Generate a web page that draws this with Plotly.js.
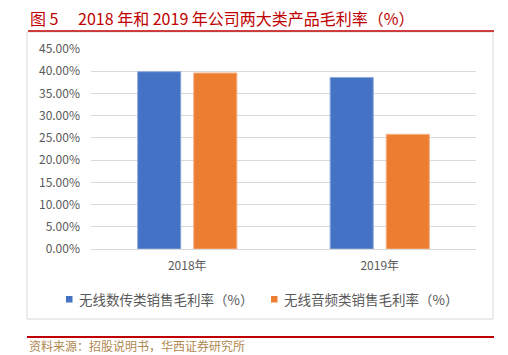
<!DOCTYPE html>
<html>
<head>
<meta charset="utf-8">
<script src="https://cdn.plot.ly/plotly-3.0.1.min.js"></script>
<style>html,body{margin:0;padding:0;background:#fff;}#chart{width:508px;height:355px;}</style>
</head>
<body>
<div id="chart"></div>
<script>
const categories = ["2018年", "2019年"];
const seriesNames = ["无线数传类销售毛利率（%）", "无线音频类销售毛利率（%）"];
const seriesColors = ["#4472c4", "#ed7d31"];
const wirelessData = [0.399, 0.386];
const wirelessAudio = [0.396, 0.258];
const tickVals = [0, 0.05, 0.10, 0.15, 0.20, 0.25, 0.30, 0.35, 0.40, 0.45];
const titleText = "图 5　 2018 年和 2019 年公司两大类产品毛利率（%）";
const sourceText = "资料来源：招股说明书，华西证券研究所";

const font = "'Noto Sans CJK SC', 'Liberation Sans', sans-serif";
const W = 385, H = 200, L = 91, T = 49;
const px = v => (v - L) / W;
const py = v => (T + H - v) / H;

const traces = [
  {type: "bar", name: seriesNames[0], x: categories, y: wirelessData, showlegend: false,
   marker: {color: seriesColors[0], line: {color: "#8faadc", width: 1}}},
  {type: "bar", name: seriesNames[1], x: categories, y: wirelessAudio, showlegend: false,
   marker: {color: seriesColors[1], line: {color: "#f4b183", width: 1}}}
];

const legendMarkerX = [66, 271];
const legendTextX = [77, 282];
const shapes = [
  {type: "rect", xref: "paper", yref: "paper", x0: px(27), x1: px(493), y0: py(319), y1: py(32),
   line: {color: "#d9d9d9", width: 1}, fillcolor: "rgba(0,0,0,0)", layer: "below"},
  {type: "line", xref: "paper", yref: "paper", x0: px(28), x1: px(494), y0: py(31), y1: py(31),
   line: {color: "#c00000", width: 1.5}},
  {type: "line", xref: "paper", yref: "paper", x0: px(27), x1: px(494), y0: py(337), y1: py(337),
   line: {color: "#c00000", width: 2}}
];
const annotations = [
  {text: titleText, xref: "paper", yref: "paper", x: px(28), y: py(18), xanchor: "left", yanchor: "middle",
   showarrow: false, font: {family: font, size: 16, color: "#c00000"}},
  {text: sourceText, xref: "paper", yref: "paper", x: px(27), y: py(345), xanchor: "left", yanchor: "middle",
   showarrow: false, font: {family: font, size: 12, color: "#b08850"}}
];
seriesNames.forEach((name, i) => {
  shapes.push({type: "rect", xref: "paper", yref: "paper",
    x0: px(legendMarkerX[i]), x1: px(legendMarkerX[i] + 6.5), y0: py(302.5), y1: py(296),
    line: {width: 0}, fillcolor: seriesColors[i]});
  annotations.push({text: name, xref: "paper", yref: "paper", x: px(legendTextX[i]), y: py(299),
    xanchor: "left", yanchor: "middle", showarrow: false,
    font: {family: font, size: 13.5, color: "#595959"}});
});

const layout = {
  width: 508, height: 355,
  margin: {l: L, r: 508 - L - W, t: T, b: 355 - T - H},
  paper_bgcolor: "#fff", plot_bgcolor: "#fff",
  font: {family: font, color: "#595959", size: 11},
  barmode: "group", bargap: 0.417, bargroupgap: 0.232,
  showlegend: false,
  xaxis: {showgrid: false, showline: true, linecolor: "#d9d9d9", linewidth: 1,
          ticks: "", tickfont: {size: 12, color: "#595959"}, ticklabelstandoff: 6, fixedrange: true},
  yaxis: {range: [0, 0.45], tickvals: tickVals, tickformat: ".2%",
          showgrid: true, gridcolor: "#d9d9d9", gridwidth: 1, zeroline: false,
          showline: false, ticks: "", tickfont: {size: 12, color: "#595959"},
          ticklabelstandoff: 10, fixedrange: true},
  shapes: shapes,
  annotations: annotations
};
Plotly.newPlot("chart", traces, layout, {displayModeBar: false, staticPlot: true});
</script>
</body>
</html>
